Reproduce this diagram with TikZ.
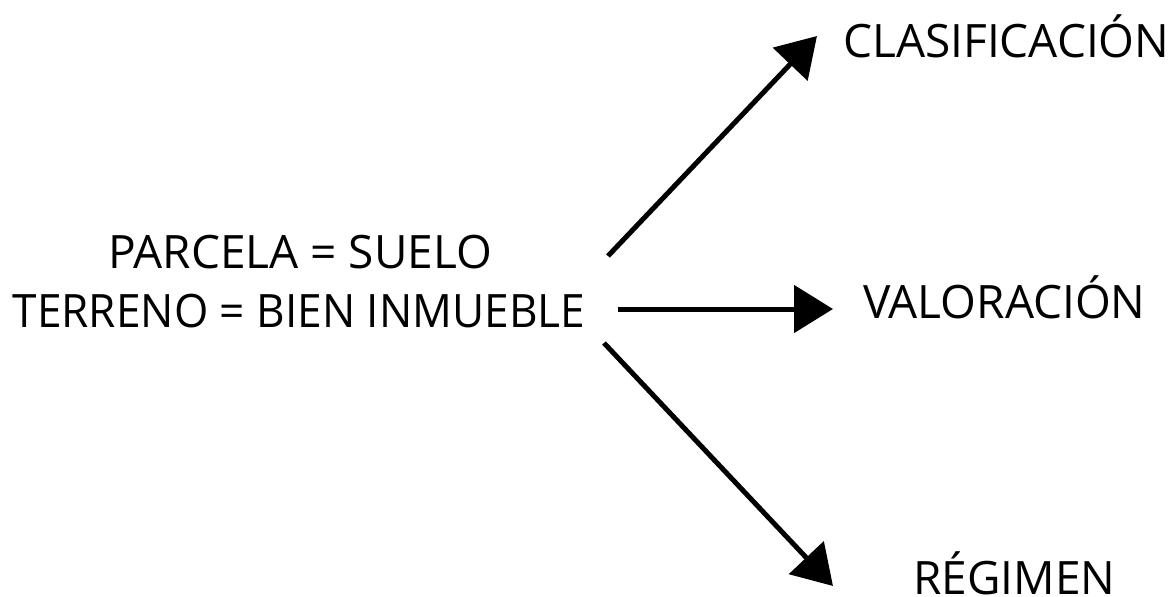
\documentclass[tikz,border=0pt]{standalone}
\usepackage{fontspec}
\setmainfont{Open Sans}
\usepackage{tikz}
\usetikzlibrary{arrows.meta}

\begin{document}
\begin{tikzpicture}[x=1pt, y=-1pt,
	lbl/.style = {inner sep=0pt, font=\fontsize{46}{56}\selectfont},
	arr/.style = {line width=5pt, -{Triangle[length=39pt, width=47pt]}}]
\useasboundingbox (0,0) rectangle (1173,597);
% left text
\node (parcela) [lbl, anchor=base] at (300,268) {PARCELA = SUELO};
\node (terreno) [lbl, anchor=base, xscale=0.96] at (299,327) {TERRENO = BIEN INMUEBLE};
% right labels
\node (clas) [lbl, anchor=base west] at (843,57) {CLASIFICACIÓN};
\node (val) [lbl, anchor=base west] at (863,318) {VALORACIÓN};
\node (reg) [lbl, anchor=base west] at (913,594) {RÉGIMEN};
% arrow ends
\coordinate (a-1) at (608,256); \coordinate (b-1) at (817,36);
\coordinate (a-2) at (618,309); \coordinate (b-2) at (833,309);
\coordinate (a-3) at (604,343); \coordinate (b-3) at (833,586);
\draw[arr] (a-1) -- (b-1);
\draw[arr] (a-2) -- (b-2);
\draw[arr] (a-3) -- (b-3);
\end{tikzpicture}
\end{document}
